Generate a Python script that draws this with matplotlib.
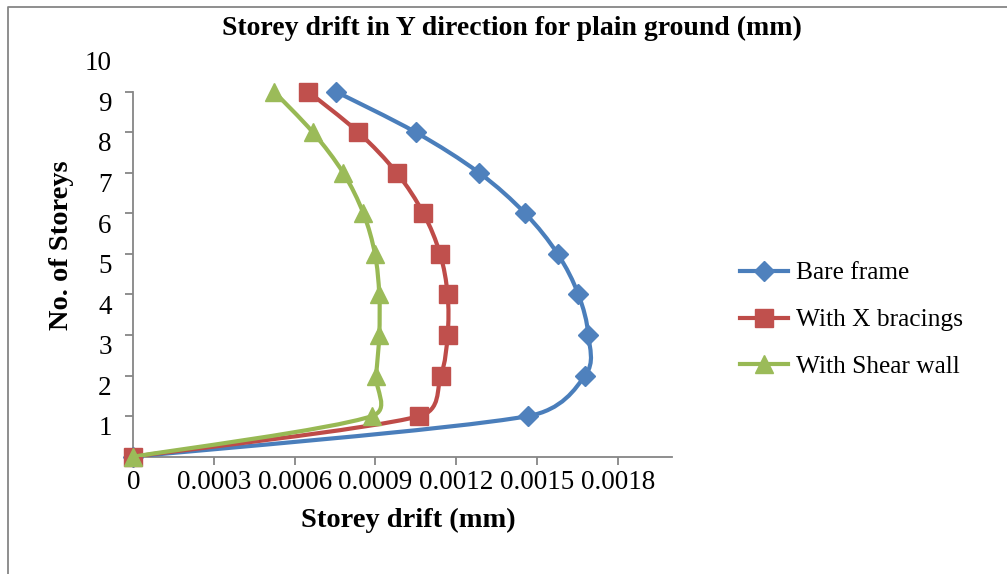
import numpy as np
import matplotlib
matplotlib.use('Agg')
import matplotlib.pyplot as plt
from matplotlib.path import Path
from matplotlib.patches import PathPatch
from matplotlib.lines import Line2D
from matplotlib.transforms import ScaledTranslation

plt.rcParams['font.family'] = ['Liberation Serif', 'DejaVu Serif']

# storey number vs drift for each model
storeys = [0, 1, 2, 3, 4, 5, 6, 7, 8, 9]
bare_frame = [0, 0.001466, 0.001679, 0.001691, 0.001654, 0.001577, 0.001456, 0.001285, 0.001049, 0.000753]
x_bracings = [0, 0.001063, 0.001143, 0.001168, 0.001168, 0.001140, 0.001078, 0.000979, 0.000836, 0.000650]
shear_wall = [0, 0.000886, 0.000902, 0.000914, 0.000914, 0.000898, 0.000855, 0.000780, 0.000667, 0.000523]

x_ticks = [0, 0.0003, 0.0006, 0.0009, 0.0012, 0.0015, 0.0018]
x_tick_labels = ['0', '0.0003', '0.0006', '0.0009', '0.0012', '0.0015', '0.0018']
y_ticks = [1, 2, 3, 4, 5, 6, 7, 8, 9, 10]

X_MAX, Y_MAX = 0.002, 10
AX_W, AX_H = 538.2, 405.6  # axes size in pixels


def smooth_path(xs, ys):
    # bezier smoothing in screen proportions; control arms are cut to half the segment
    sx, sy = AX_W / X_MAX, AX_H / Y_MAX
    pts = np.column_stack([np.asarray(xs) * sx, np.asarray(ys) * sy])
    n = len(pts)
    verts = [pts[0]]
    codes = [Path.MOVETO]
    for i in range(n - 1):
        p0 = pts[max(i - 1, 0)]
        p1 = pts[i]
        p2 = pts[i + 1]
        p3 = pts[min(i + 2, n - 1)]
        half = np.linalg.norm(p2 - p1) / 2
        a = (p2 - p0) / 6
        b = (p3 - p1) / 6
        if np.linalg.norm(a) > half:
            a = a * half / np.linalg.norm(a)
        if np.linalg.norm(b) > half:
            b = b * half / np.linalg.norm(b)
        verts += [p1 + a, p2 - b, p2]
        codes += [Path.CURVE4] * 3
    verts = np.array(verts) / [sx, sy]
    return Path(verts, codes)


series = [
    ('Bare frame', bare_frame, '#4A7EBB', '#4F81BD', 'D', 10),
    ('With X bracings', x_bracings, '#BE4B48', '#C0504D', 's', 13.5),
    ('With Shear wall', shear_wall, '#98B954', '#9BBB59', '^', 13.5),
]

fig = plt.figure(figsize=(10.07, 5.74), dpi=100)
ax = fig.add_axes([133.3 / 1007, 1 - 456.7 / 574, AX_W / 1007, AX_H / 574])

handles = []
for k, (name, vals, lc, mc, mk, ms) in enumerate(series):
    patch = PathPatch(smooth_path(vals, storeys), facecolor='none', edgecolor=lc,
                      lw=3, capstyle='round', joinstyle='round', zorder=3 + 2 * k)
    ax.add_patch(patch)
    ax.plot(vals, storeys, ls='none', marker=mk, ms=ms, color=mc, mec=mc,
            clip_on=False, zorder=4 + 2 * k)
    handles.append(Line2D([], [], color=lc, lw=3, marker=mk, ms=ms, mfc=mc, mec=mc))

ax.set_xlim(0, X_MAX)
ax.set_ylim(0, Y_MAX)
ax.set_xticks(x_ticks)
ax.set_xticklabels(x_tick_labels)
ax.set_yticks(y_ticks)

for side in ['top', 'right']:
    ax.spines[side].set_visible(False)
for side in ['left', 'bottom']:
    ax.spines[side].set_color('#868686')
    ax.spines[side].set_linewidth(1.3)
ax.spines['left'].set_bounds(0, 9)

ax.tick_params(axis='both', colors='#868686', labelcolor='black', labelsize=19.5, width=1.3, length=5.5)
ax.tick_params(axis='y', pad=10)
ax.tick_params(axis='x', pad=4)
ax.yaxis.get_major_ticks()[-1].tick1line.set_visible(False)
for lab in ax.get_yticklabels():
    lab.set_transform(lab.get_transform() + ScaledTranslation(0, -7 / 72, fig.dpi_scale_trans))

fig.text(512 / 1007, 1 - 28 / 574, 'Storey drift in Y direction for plain ground (mm)',
         ha='center', va='center', fontsize=20, fontweight='bold')
fig.text(408 / 1007, 1 - 520 / 574, 'Storey drift (mm)', ha='center', va='center',
         fontsize=20.5, fontweight='bold')
fig.text(62 / 1007, 1 - 245 / 574, 'No. of Storeys', ha='center', va='center',
         rotation=90, fontsize=20.5, fontweight='bold')

fig.legend(handles=handles, labels=[s[0] for s in series],
           loc='center left', bbox_to_anchor=(740 / 1007, 1 - 320 / 574),
           frameon=False, fontsize=18.3, handlelength=1.9, handletextpad=0.3,
           labelspacing=0.95, borderpad=0, borderaxespad=0)

# outer chart border (only top and left edges show)
fig.add_artist(Line2D([8 / 1007, 8 / 1007, 1], [0, 1 - 7 / 574, 1 - 7 / 574],
                      color='#868686', lw=1.3, transform=fig.transFigure))

fig.savefig('out.png', dpi=100)
